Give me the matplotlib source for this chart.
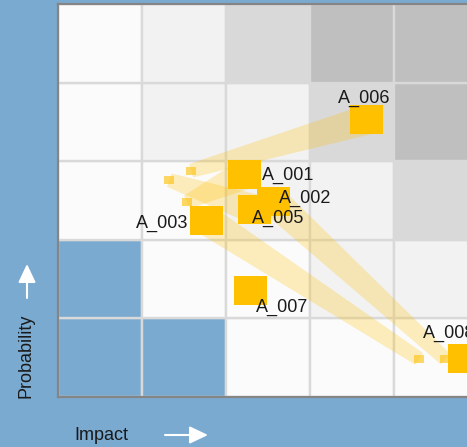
import matplotlib
matplotlib.use("Agg")
import matplotlib.pyplot as plt
from matplotlib.patches import Rectangle, Polygon, FancyArrowPatch
import numpy as np

plt.rcParams['font.family'] = ['Liberation Sans', 'DejaVu Sans']

# ---------------- data ----------------
risk_ids = ["A_001", "A_002", "A_003", "A_005", "A_006", "A_007", "A_008"]
impact_now = [2.22, 2.57, 1.77, 2.34, 3.68, 2.30, 4.84]
prob_now = [2.83, 2.49, 2.25, 2.39, 3.53, 1.35, 0.49]
impact_prev = [1.54, 4.61, 4.30, 1.33, 1.59, None, None]
prob_prev = [2.48, 0.48, 0.48, 2.76, 2.88, None, None]

n_levels = 5
# shade grade of each cell, rows = probability level (bottom to top), cols = impact level
cell_grade = [
    [0, 0, 1, 1, 1],
    [0, 1, 1, 2, 2],
    [1, 1, 2, 2, 3],
    [1, 2, 2, 3, 4],
    [1, 2, 3, 4, 4],
]
x_label = "Impact"
y_label = "Probability"

# ---------------- styles ----------------
BLUE = "#7baad1"
grade_colors = {0: BLUE, 1: "#fbfbfb", 2: "#f2f2f2", 3: "#d9d9d9", 4: "#bfbfbf"}
MARK = "#ffc000"
TXT = "#1a1a1a"
# label offsets (pixels: dx right, dy down, from square centre) and alignment
label_style = {
    "A_001": (17.7, 4.8, "left"),
    "A_002": (5.3, 1.3, "left"),
    "A_003": (-18.3, 7.8, "right"),
    "A_005": (-2.3, 13.5, "left"),
    "A_006": (-28.7, -17.3, "left"),
    "A_007": (5.0, 20.7, "left"),
    "A_008": (-41.8, -20.3, "left"),
}

W, H = 467, 447
fig = plt.figure(figsize=(W / 100, H / 100), dpi=100, facecolor=BLUE)
ax = fig.add_axes([57.5 / W, 50.5 / H, 420.5 / W, 392 / H])
ax.set_xlim(0, n_levels)
ax.set_ylim(0, n_levels)
ax.set_facecolor(BLUE)
ax.set_xticks([])
ax.set_yticks([])
for s in ["left", "bottom", "top"]:
    ax.spines[s].set_color("#858585")
    ax.spines[s].set_linewidth(1.6)
    ax.spines[s].set_zorder(10)
ax.spines["right"].set_visible(False)

# cells
for r in range(n_levels):
    for c in range(n_levels):
        ax.add_patch(Rectangle((c, r), 1, 1, facecolor=grade_colors[cell_grade[r][c]],
                               edgecolor="#d9d9d9", linewidth=1.7, zorder=1))

px_x = ax.bbox.width / n_levels
px_y = ax.bbox.height / n_levels
to_disp = ax.transData
to_data = ax.transData.inverted()

# movement bands
for xp, yp, xn, yn in zip(impact_prev, prob_prev, impact_now, prob_now):
    if xp is None:
        continue
    p0 = np.array(to_disp.transform((xp, yp)))
    p1 = np.array(to_disp.transform((xn, yn)))
    d = p1 - p0
    d = d / np.hypot(*d)
    nrm = np.array([-d[1], d[0]])
    w0, w1 = 7.0, 15.0
    pts = [p0 + nrm * w0, p1 + nrm * w1, p1 - nrm * w1, p0 - nrm * w0]
    pts = to_data.transform(pts)
    ax.add_patch(Polygon(pts, closed=True, facecolor=MARK, alpha=0.25,
                         edgecolor="none", zorder=2))

# previous positions
sw, sh = 10 / px_x, 8 / px_y
for xp, yp in zip(impact_prev, prob_prev):
    if xp is None:
        continue
    ax.add_patch(Rectangle((xp - sw / 2, yp - sh / 2), sw, sh, facecolor=MARK,
                           alpha=0.6, edgecolor="none", zorder=3))

# current positions
bw, bh = 33 / px_x, 29 / px_y
for name, xn, yn in zip(risk_ids, impact_now, prob_now):
    ax.add_patch(Rectangle((xn - bw / 2, yn - bh / 2), bw, bh, facecolor=MARK,
                           edgecolor="none", zorder=4))
    dx, dy, ha = label_style[name]
    ax.annotate(name, xy=(xn, yn), xytext=(dx * 0.72, -dy * 0.72),
                textcoords="offset points", ha=ha, va="baseline",
                fontsize=13, color=TXT, zorder=6, annotation_clip=False)

# axis titles with arrows
fig.text(74 / W, 1 - 440 / H, x_label, ha="left", va="baseline", fontsize=13, color=TXT)
fig.text(26 / W, 1 - 356 / H, y_label, ha="center", va="center", rotation=90,
         fontsize=13, color=TXT)
arrow_kw = dict(arrowstyle="-|>,head_length=0.8,head_width=0.38", mutation_scale=14,
                color="white", linewidth=1.5, shrinkA=0, shrinkB=0,
                transform=fig.transFigure)
fig.patches.append(FancyArrowPatch((165 / W, 1 - 435 / H), (208 / W, 1 - 435 / H), **arrow_kw))
fig.patches.append(FancyArrowPatch((27 / W, 1 - 298 / H), (27 / W, 1 - 264 / H), **arrow_kw))

fig.savefig("out.png", dpi=100, facecolor=BLUE)
